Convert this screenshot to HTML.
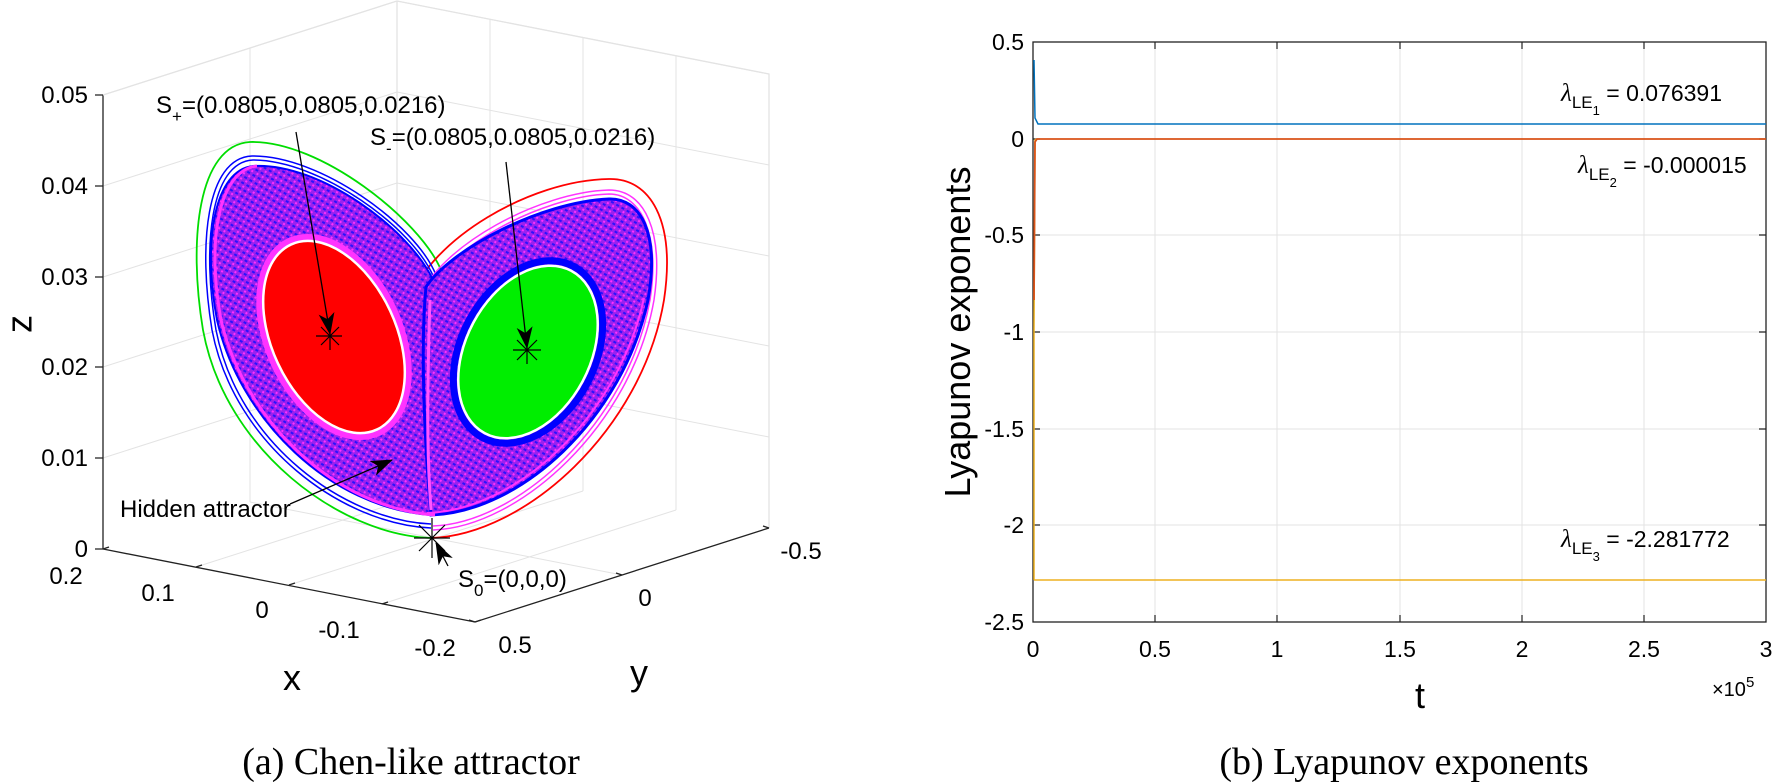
<!DOCTYPE html>
<html><head><meta charset="utf-8"><style>
body{margin:0;background:#fff;}
svg{display:block;font-family:"Liberation Sans",sans-serif;}
</style></head><body>
<svg width="1773" height="782" viewBox="0 0 1773 782">
<defs>
<marker id="ahb" markerWidth="22" markerHeight="16" refX="21" refY="8" orient="auto" markerUnits="userSpaceOnUse"><path d="M0,0 L22,8 L0,16 L6,8 z" fill="#000"/></marker>
<pattern id="tex" width="6" height="6" patternUnits="userSpaceOnUse" patternTransform="rotate(30)">
 <rect width="6" height="6" fill="#9a22ee"/>
 <rect width="3" height="2" fill="#2a10ff"/>
 <rect x="3" y="3" width="2" height="2" fill="#ff30ff"/>
</pattern>
</defs>
<!-- ===== LEFT 3D PLOT ===== -->
<g stroke="#e3e3e3" stroke-width="1" fill="none">
 <path d="M103,458 L397,364 M103,367 L397,273 M103,277 L397,183 M103,186 L397,92 M103,95 L397,1"/>
 <path d="M250,502 L250,48"/>
 <path d="M397,364 L769,437 M397,273 L769,346 M397,183 L769,256 M397,92 L769,165 M397,1 L769,74"/>
 <path d="M490,473 L490,19 M583,491 L583,37 M676,510 L676,56"/>
 <path d="M196,567 L490,473 M289,585 L583,491 M382,604 L676,510 M250,502 L622,575"/>
</g>
<g stroke="#222" stroke-width="1.3" fill="none">
 <path d="M103,95 L103,549 L475,622 L769,528"/>
 <path d="M103,95 L397,1 L769,74 L769,528" stroke="#e3e3e3"/>
 <path d="M397,1 L397,455" stroke="#e3e3e3"/>
 <path d="M95,549 L103,549 M95,458 L103,458 M95,367 L103,367 M95,277 L103,277 M95,186 L103,186 M95,95 L103,95"/>
 <path d="M103,549 L109,547 M196,567 L202,565 M289,585 L295,583 M382,604 L388,602 M475,622 L481,620"/>
 <path d="M475,622 L469,620 M622,575 L616,573 M769,528 L763,526"/>
</g>
<g font-size="24" fill="#000" text-anchor="end">
 <text x="88" y="557">0</text><text x="88" y="466">0.01</text><text x="88" y="375">0.02</text>
 <text x="88" y="285">0.03</text><text x="88" y="194">0.04</text><text x="88" y="103">0.05</text>
</g>
<g font-size="24" fill="#000" text-anchor="middle">
 <text x="66" y="584">0.2</text><text x="158" y="601">0.1</text><text x="262" y="618">0</text>
 <text x="339" y="638">-0.1</text><text x="435" y="656">-0.2</text>
 <text x="515" y="653">0.5</text><text x="645" y="606">0</text><text x="801" y="559">-0.5</text>
</g>
<text x="292" y="690" font-size="36" text-anchor="middle">x</text>
<text x="639" y="685" font-size="36" text-anchor="middle">y</text>
<text x="22" y="324" font-size="36" text-anchor="middle" transform="rotate(-90 22 324)" dominant-baseline="middle">z</text>

<!-- attractor outer loops -->
<path d="M431,538 C340,535 225,450 203,330 C188,240 198,145 250,142 C320,140 420,220 441,270" fill="none" stroke="#00dd00" stroke-width="1.8"/>
<path d="M431,538 C525,535 642,430 664,300 C676,220 650,178 609,179 C530,180 430,240 410,300 C403,320 403,340 404,350" fill="none" stroke="#ff0000" stroke-width="1.8"/>
<path d="M431,528 C342,524 234,445 212,330 C198,245 206,158 252,156 C320,155 416,225 436,275" fill="none" stroke="#0000ff" stroke-width="1.5"/>
<path d="M431,524 C344,520 238,443 216,330 C202,248 210,162 253,160 C320,160 414,228 434,278" fill="none" stroke="#0000ff" stroke-width="1.5"/>
<path d="M433,530 C520,527 632,425 654,300 C664,232 645,190 609,190 C540,192 440,245 418,300" fill="none" stroke="#ff33ff" stroke-width="1.5"/>
<path d="M433,526 C518,523 628,423 650,300 C660,236 642,194 609,194 C542,196 442,249 421,302" fill="none" stroke="#ff33ff" stroke-width="1.5"/>
<!-- wings -->
<path d="M431,515 C330,508 240,420 217,320 C202,240 215,170 253,166 C320,162 410,230 433,280 C440,330 435,450 431,515 Z" fill="url(#tex)" stroke="#0000ff" stroke-width="2"/>
<path d="M431,515 C520,512 622,420 648,300 C660,232 640,198 609,199 C540,202 450,250 426,287 C420,350 425,450 431,515 Z" fill="url(#tex)" stroke="#0000ff" stroke-width="3"/>
<path d="M431,515 C330,508 240,420 217,320 C202,240 215,170 253,166" fill="none" stroke="#ff33ff" stroke-width="3" transform="translate(4,0)"/>
<path d="M431,515 C520,512 622,420 648,300" fill="none" stroke="#ff33ff" stroke-width="2" transform="translate(-4,-2)"/>
<path d="M431,510 C428,470 426,420 430,300" stroke="#ff55ff" stroke-width="3" fill="none"/>
<!-- inner filled ellipses -->
<ellipse cx="334" cy="337" rx="66" ry="106" transform="rotate(-25 334 337)" fill="none" stroke="#ff33ff" stroke-width="6"/>
<ellipse cx="334" cy="337" rx="62" ry="102" transform="rotate(-25 334 337)" fill="#ff0000" stroke="#ffffff" stroke-width="2.5"/>
<ellipse cx="528" cy="352" rx="67" ry="97" transform="rotate(28 528 352)" fill="none" stroke="#0000ff" stroke-width="7"/>
<ellipse cx="528" cy="352" rx="62" ry="92" transform="rotate(28 528 352)" fill="#00ee00" stroke="#ffffff" stroke-width="2.5"/>

<g stroke="#000" stroke-width="1.2">
 <path d="M316,336 L342,336 M330,322 L330,350 M321,327 L339,345 M339,327 L321,345"/>
 <path d="M513,350 L541,350 M527,336 L527,364 M517,340 L537,360 M537,340 L517,360"/>
 <path d="M414,538 L450,538 M432,518 L432,558 M419,525 L445,551 M445,525 L419,551"/>
</g>
<g stroke="#000" stroke-width="1.3" fill="none">
 <path d="M296,132 L330,334" marker-end="url(#ahb)"/>
 <path d="M506,162 L527,348" marker-end="url(#ahb)"/>
 <path d="M290,504 L392,460" marker-end="url(#ahb)"/>
 <path d="M448,566 L436,543" marker-end="url(#ahb)"/>
</g>
<g font-size="24" fill="#000">
 <text x="156" y="113">S<tspan font-size="17" dy="9">+</tspan><tspan dy="-9">=(0.0805,0.0805,0.0216)</tspan></text>
 <text x="370" y="145">S<tspan font-size="17" dy="9">-</tspan><tspan dy="-9">=(0.0805,0.0805,0.0216)</tspan></text>
 <text x="120" y="517">Hidden attractor</text>
 <text x="458" y="587">S<tspan font-size="17" dy="9">0</tspan><tspan dy="-9">=(0,0,0)</tspan></text>
</g>

<!-- ===== RIGHT PLOT ===== -->
<g stroke="#e3e3e3" stroke-width="1">
 <path d="M1155,42 V622 M1277,42 V622 M1400,42 V622 M1522,42 V622 M1644,42 V622"/>
 <path d="M1033,139 H1766 M1033,235 H1766 M1033,332 H1766 M1033,429 H1766 M1033,525 H1766"/>
</g>
<rect x="1033" y="42" width="733" height="580" fill="none" stroke="#222" stroke-width="1.3"/>
<g stroke="#222" stroke-width="1.2">
 <path d="M1155,622 v-7 M1277,622 v-7 M1400,622 v-7 M1522,622 v-7 M1644,622 v-7"/>
 <path d="M1155,42 v7 M1277,42 v7 M1400,42 v7 M1522,42 v7 M1644,42 v7"/>
 <path d="M1033,139 h7 M1033,235 h7 M1033,332 h7 M1033,429 h7 M1033,525 h7"/>
 <path d="M1766,139 h-7 M1766,235 h-7 M1766,332 h-7 M1766,429 h-7 M1766,525 h-7"/>
</g>
<path d="M1034,580 L1034,330 L1035,140 L1036,139" fill="none" stroke="#edb120" stroke-width="1.5"/>
<path d="M1034,580 H1766" fill="none" stroke="#edb120" stroke-width="1.5"/>
<path d="M1034,300 L1035,142 L1037,139 H1766" fill="none" stroke="#d95319" stroke-width="1.8"/>
<path d="M1034,60 L1035,118 L1038,124 H1766" fill="none" stroke="#0072bd" stroke-width="1.5"/>
<g font-size="23" fill="#000" text-anchor="end">
 <text x="1024" y="50">0.5</text><text x="1024" y="147">0</text><text x="1024" y="243">-0.5</text>
 <text x="1024" y="340">-1</text><text x="1024" y="437">-1.5</text><text x="1024" y="533">-2</text><text x="1024" y="630">-2.5</text>
</g>
<g font-size="23" fill="#000" text-anchor="middle">
 <text x="1033" y="657">0</text><text x="1155" y="657">0.5</text><text x="1277" y="657">1</text>
 <text x="1400" y="657">1.5</text><text x="1522" y="657">2</text><text x="1644" y="657">2.5</text><text x="1766" y="657">3</text>
</g>
<text x="1712" y="696" font-size="20">×10<tspan font-size="15" dy="-9">5</tspan></text>
<text x="1420" y="708" font-size="36" text-anchor="middle">t</text>
<text x="970" y="332" font-size="36" text-anchor="middle" transform="rotate(-90 970 332)">Lyapunov exponents</text>
<g font-size="23" fill="#000">
 <text x="1561" y="101"><tspan font-family="'Liberation Serif',serif" font-style="italic" font-size="25">λ</tspan><tspan font-size="17" dy="7">LE</tspan><tspan font-size="13" dy="7">1</tspan><tspan dy="-14"> = 0.076391</tspan></text>
 <text x="1578" y="173"><tspan font-family="'Liberation Serif',serif" font-style="italic" font-size="25">λ</tspan><tspan font-size="17" dy="7">LE</tspan><tspan font-size="13" dy="7">2</tspan><tspan dy="-14"> = -0.000015</tspan></text>
 <text x="1561" y="547"><tspan font-family="'Liberation Serif',serif" font-style="italic" font-size="25">λ</tspan><tspan font-size="17" dy="7">LE</tspan><tspan font-size="13" dy="7">3</tspan><tspan dy="-14"> = -2.281772</tspan></text>
</g>
<g font-family="'Liberation Serif',serif" font-size="38" fill="#000" text-anchor="middle">
 <text x="411" y="774">(a)  Chen-like attractor</text>
 <text x="1404" y="774">(b)  Lyapunov exponents</text>
</g>
</svg>
</body></html>
